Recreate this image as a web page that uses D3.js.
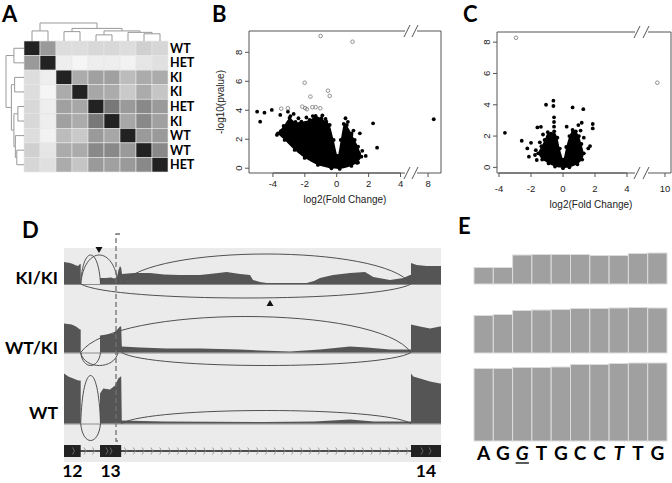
<!DOCTYPE html>
<html>
<head>
<meta charset="utf-8">
<script src="https://cdnjs.cloudflare.com/ajax/libs/d3/7.8.5/d3.min.js"></script>
<style>
body { margin: 0; background: #fff; }
svg { display: block; }
</style>
</head>
<body>
<svg width="672" height="483"></svg>
<script>
// ---------- data ----------
// A: sample correlation heatmap (0 = unrelated, 1 = identical)
var sampleLabels = ["WT", "HET", "KI", "KI", "HET", "KI", "WT", "WT", "HET"];
var similarity = [
  [1, .44, .125, .125, .15, .15, .125, .185, .16],
  [.44, 1, .046, .014, .046, .046, .028, .088, .11],
  [.125, .046, 1, .36, .41, .41, .28, .36, .36],
  [.125, .014, .36, 1, .38, .36, .22, .36, .24],
  [.15, .046, .41, .38, 1, .6, .44, .52, .44],
  [.15, .046, .41, .36, .6, 1, .38, .52, .41],
  [.125, .028, .28, .22, .44, .38, 1, .44, .44],
  [.185, .088, .36, .36, .52, .52, .44, 1, .52],
  [.16, .11, .36, .24, .44, .41, .44, .52, 1]
];
// clustering tree (merge heights)
var dendro = {h: 1, children: [
  {h: .56, children: [{leaf: 0}, {leaf: 1}]},
  {h: .7, children: [
    {h: .52, children: [{leaf: 2}, {leaf: 3}]},
    {h: .56, children: [
      {h: .34, children: [{leaf: 4}, {leaf: 5}]},
      {h: .48, children: [{leaf: 6}, {h: .4, children: [{leaf: 7}, {leaf: 8}]}]}
    ]}
  ]}
]};

// B: volcano, outline of the dense cloud + single points  [log2FC, -log10 p]
var bCloud = [[-3.69,2.41],[-3.33,2.92],[-2.96,3.47],[-2.58,3.19],[-2.22,3.21],[-1.70,3.33],[-1.32,3.61],
  [-0.96,3.45],[-0.65,3.21],[-0.44,2.99],[-0.19,1.95],[0.06,0.85],[0.25,1.95],[0.44,3.06],[0.63,2.99],
  [0.92,2.41],[1.13,1.95],[1.34,1.49],[1.55,0.80],[1.26,0.37],[0.92,0.16],[0.19,-0.05],[-0.33,-0.01],
  [-1.18,0.23],[-2.01,0.71],[-2.64,1.26],[-3.27,1.95]];
var bPoints = [[-4.99,3.90],[-4.80,3.21],[-4.53,3.83],[-4.07,4.02],[-3.54,3.68],[-3.06,3.90],[-3.75,2.3],
  [-3.5,2.55],[-3.2,2.8],[-2.9,3.6],[-2.7,3.75],[-2.4,3.45],[-1.9,3.5],[-1.5,3.6],[-0.9,3.65],[-0.7,3.4],
  [0.55,3.45],[0.7,3.2],[0.92,2.30],[1.05,2.6],[1.45,2.41],[1.40,1.03],[1.82,0.85],[1.6,1.2],[1.34,0.39],
  [-1.07,0.34],[2.28,3.10],[2.53,1.42],[8.35,3.38]];
var bOpen = [[-1.01,9.12],[0.99,8.73],[-2.01,5.90],[-0.55,5.35],[-0.44,4.99],[-1.65,4.94],[-3.48,4.11],
  [-3.06,4.14],[-2.16,4.25],[-1.98,4.15],[-1.87,4.07],[-1.53,4.21],[-1.32,4.21],[-1.03,4.14]];

// C: volcano
var cCloud = [[-1.55,0.9],[-1.35,1.35],[-1.15,1.75],[-0.95,2.25],[-0.75,2.15],[-0.55,2.3],[-0.35,1.9],
  [-0.2,1.2],[0.02,0.5],[0.2,1.3],[0.4,2.0],[0.6,2.4],[0.8,2.3],[1.0,2.0],[1.15,1.5],[1.3,0.9],[1.2,0.5],
  [0.9,0.2],[0.4,0.0],[0,-0.05],[-0.5,0.05],[-0.9,0.25],[-1.3,0.5]];
var cPoints = [[-3.63,2.21],[-2.58,1.70],[-2.23,1.21],[-2.13,0.68],[-2.0,1.57],[-1.6,2.55],[-1.38,2.59],
  [-1.06,4.0],[-0.6,4.26],[-0.6,3.92],[-0.56,3.2],[-0.56,2.9],[-0.56,2.6],[0.6,3.83],[1.27,3.72],
  [1.86,2.77],[1.86,2.49],[1.17,2.85],[0.96,2.7],[1.58,1.21],[1.69,1.36],[-1.64,0.47],[-1.75,0.79],
  [0.23,2.6],[0.64,2.27],[-1.7,1.1],[-1.45,1.6],[-1.25,2.1],[1.1,2.35],[1.3,1.9]];
var cOpen = [[-2.94,8.28],[9.52,5.41]];

// D: sashimi plot, coverage [bp, reads] and junctions [from, to, side, reads]
var exons = [{name: "12", start: 0, end: 167}, {name: "13", start: 360, end: 572}, {name: "14", start: 3470, end: 3770}];
var trackNames = ["KI/KI", "WT/KI", "WT"];
var covKI = [[0,0],[0,44],[30,43],[60,42],[90,40],[110,38],[140,36],[160,40],[167,40],[167,0],
  [360,0],[360,12],[420,12],[470,13],[500,11],[530,14],[545,28],[560,36],[572,32],[580,20],
  [700,22],[860,22],[1000,19],[1150,18],[1360,18],[1500,21],[1627,24],[1760,20],[1860,18],[1890,8],
  [1960,4],[2027,2],[2427,2],[2500,6],[2560,12],[2690,18],[2860,22],[3010,24],[3093,14],[3260,8],
  [3393,12],[3460,18],[3470,18],[3470,42],[3527,38],[3627,36],[3760,36],[3770,36],[3770,0]];
var covHet = [[0,0],[0,58],[77,56],[120,52],[160,46],[167,46],[167,0],
  [360,0],[360,34],[427,36],[493,38],[543,48],[560,52],[572,52],[578,12],[760,10],[1027,8],[1360,8],
  [1760,6],[1960,4],[2260,2],[2560,6],[2860,12],[3027,10],[3260,6],[3440,6],[3470,6],
  [3470,56],[3560,52],[3660,48],[3760,52],[3770,52],[3770,0]];
var covWT = [[0,0],[0,100],[43,94],[93,90],[143,86],[167,86],[167,0],
  [360,0],[360,60],[393,70],[460,68],[510,76],[543,90],[567,94],[572,94],[578,6],[1000,4],[2000,3],
  [2500,4],[2860,8],[3100,4],[3470,4],[3470,100],[3493,94],[3560,90],[3660,84],[3760,80],[3770,80],[3770,0]];
var juncKI = [[167,365,"up",58],[167,540,"up",58],[575,3470,"up",60],[167,3470,"down",28]];
var juncHet = [[167,3470,"up",72],[167,365,"down",26],[167,540,"down",26],[575,3470,"down",26]];
var juncWT = [[167,365,"up",96],[167,365,"down",34],[575,3470,"up",26]];
var markers = [[350, "down"], [2060, "up"]]; // on the KI/KI track

// E: per-base coverage at the splice site
var bases = ["A", "G", "G", "T", "G", "C", "C", "T", "T", "G"];
var covE1 = [33, 33, 58, 59, 59, 59, 57, 57, 61, 62];
var covE2 = [75, 77, 85, 86, 87, 89, 89, 90, 91, 90];
var covE3 = [145, 145, 147, 147, 148, 153, 153, 155, 156, 156];

// ---------- drawing ----------
var svg = d3.select("svg");
var boldFont = "Lato, 'Open Sans', sans-serif";
var plotFont = "'Liberation Sans', Arial, sans-serif";

function panelLabel(t, x, y) {
  svg.append("text").attr("x", x).attr("y", y).text(t)
    .attr("font-family", boldFont).attr("font-weight", 700).attr("font-size", 22);
}
panelLabel("A", 2, 22);
panelLabel("B", 212, 22);
panelLabel("C", 463, 22);
panelLabel("D", 22, 238);
panelLabel("E", 458, 234);

// ----- A -----
var cellX = d3.scaleBand().domain(d3.range(9)).range([24, 168]);
var cellY = d3.scaleBand().domain(d3.range(9)).range([41, 172]);
var grey = d3.scaleLinear().domain([0, 1]).range(["#f8f8f8", "#222"]);
var gA = svg.append("g");
similarity.forEach(function(row, i) {
  gA.selectAll(null).data(row).enter().append("rect")
    .attr("x", function(d, j) { return cellX(j); })
    .attr("y", cellY(i))
    .attr("width", cellX.bandwidth())
    .attr("height", cellY.bandwidth())
    .attr("fill", function(d) { return grey(d); })
    .attr("stroke", "#e6e6e6").attr("stroke-width", 0.6);
});
gA.selectAll("text.lab").data(sampleLabels).enter().append("text")
  .attr("x", 170)
  .attr("y", function(d, i) { return cellY(i) + cellY.bandwidth() / 2 + 4.5; })
  .text(function(d) { return d; })
  .attr("font-family", boldFont).attr("font-weight", 700).attr("font-size", 12.5);

var tree = d3.hierarchy(dendro);
tree.eachAfter(function(n) {
  n.hgt = n.children ? n.data.h : 0;
  n.idx = n.children ? d3.mean(n.children, function(c) { return c.idx; }) : n.data.leaf;
});
var dh = d3.scaleLinear().domain([0, 1]).range([0, 18]);
var colPos = d3.scaleLinear().domain([0, 8]).range([cellX(0) + cellX.bandwidth() / 2, cellX(8) + cellX.bandwidth() / 2]);
var rowPos = d3.scaleLinear().domain([0, 8]).range([cellY(0) + cellY.bandwidth() / 2, cellY(8) + cellY.bandwidth() / 2]);
var links = tree.descendants().filter(function(n) { return n.parent; });
gA.selectAll("path.top").data(links).enter().append("path")
  .attr("d", function(n) {
    return "M" + colPos(n.idx) + "," + (41 - dh(n.hgt)) + "V" + (41 - dh(n.parent.hgt)) + "H" + colPos(n.parent.idx);
  })
  .attr("fill", "none").attr("stroke", "#999").attr("stroke-width", 1);
gA.selectAll("path.left").data(links).enter().append("path")
  .attr("d", function(n) {
    return "M" + (24 - dh(n.hgt)) + "," + rowPos(n.idx) + "H" + (24 - dh(n.parent.hgt)) + "V" + rowPos(n.parent.idx);
  })
  .attr("fill", "none").attr("stroke", "#999").attr("stroke-width", 1);

// ----- B / C volcano plots -----
function volcano(o) {
  var g = svg.append("g").attr("font-family", plotFont);
  var xl = d3.scaleLinear().domain(o.leftDom).range([o.L, o.gapL]);
  var xr = d3.scaleLinear().domain(o.rightDom).range([o.gapR, o.R]);
  var X = function(v) { return v <= o.leftDom[1] ? xl(v) : xr(v); };
  var y = d3.scaleLinear().domain(o.yDom).range([o.B, o.T]);
  var line = d3.line().x(function(d) { return X(d[0]); }).y(function(d) { return y(d[1]); })
    .curve(d3.curveCardinalClosed.tension(0.4));

  g.append("path").attr("d", line(o.cloud)).attr("fill", "#000");
  g.selectAll("circle.e").data(o.cloud).enter().append("circle")
    .attr("cx", function(d) { return X(d[0]); }).attr("cy", function(d) { return y(d[1]); })
    .attr("r", 1.9).attr("fill", "#000");
  g.selectAll("circle.p").data(o.points).enter().append("circle")
    .attr("cx", function(d) { return X(d[0]); }).attr("cy", function(d) { return y(d[1]); })
    .attr("r", 1.9).attr("fill", "#000");
  g.selectAll("circle.o").data(o.open).enter().append("circle")
    .attr("cx", function(d) { return X(d[0]); }).attr("cy", function(d) { return y(d[1]); })
    .attr("r", 1.8).attr("fill", "none").attr("stroke", "#777").attr("stroke-width", 0.8);

  // broken box
  var bl = "#555";
  var bx = g.append("g").attr("stroke", bl).attr("stroke-width", 1).attr("fill", "none");
  bx.append("path").attr("d", "M" + o.gL + "," + o.T + "H" + o.L + "V" + o.B + "H" + o.gL);
  bx.append("path").attr("d", "M" + o.gR + "," + o.T + "H" + o.R + "V" + o.B + "H" + o.gR);
  [o.T, o.B].forEach(function(yy) {
    bx.append("path").attr("d", "M" + (o.gL - 1) + "," + (yy + 6) + "L" + (o.gL + 5) + "," + (yy - 6));
    bx.append("path").attr("d", "M" + (o.gR - 5) + "," + (yy + 6) + "L" + (o.gR + 1) + "," + (yy - 6));
  });

  // y axis
  var yt = [0, 2, 4, 6, 8];
  g.selectAll("line.yt").data(yt).enter().append("line")
    .attr("x1", o.L).attr("x2", o.L - 4).attr("y1", function(d) { return y(d); }).attr("y2", function(d) { return y(d); })
    .attr("stroke", bl);
  g.selectAll("text.yt").data(yt).enter().append("text")
    .attr("transform", function(d) { return "translate(" + (o.L - 7) + "," + y(d) + ") rotate(-90)"; })
    .attr("text-anchor", "middle").attr("font-size", 9.5).attr("fill", "#222")
    .text(function(d) { return d; });
  if (o.yTitle) {
    g.append("text").attr("transform", "translate(" + o.yTitleX + "," + ((o.T + o.B) / 2) + ") rotate(-90)")
      .attr("text-anchor", "middle").attr("font-size", 10).attr("fill", "#222").text(o.yTitle);
  }
  // x axis
  g.selectAll("line.xt").data(o.xTicks).enter().append("line")
    .attr("x1", function(d) { return X(d); }).attr("x2", function(d) { return X(d); })
    .attr("y1", o.B).attr("y2", o.B + 4).attr("stroke", bl);
  g.append("line").attr("x1", X(o.xTicks[0])).attr("x2", X(o.leftTicksEnd)).attr("y1", o.B).attr("y2", o.B).attr("stroke", bl);
  g.selectAll("text.xt").data(o.xTicks).enter().append("text")
    .attr("x", function(d) { return X(d); }).attr("y", o.xLabY)
    .attr("text-anchor", "middle").attr("font-size", 9.5).attr("fill", "#222")
    .text(function(d) { return d; });
  g.append("text").attr("x", o.xTitleX).attr("y", o.xLabY + 16).attr("text-anchor", "middle")
    .attr("font-size", 10).attr("fill", "#222").text("log2(Fold Change)");
}

volcano({
  L: 249, R: 441, T: 31, B: 173, gL: 405, gR: 417,
  leftDom: [-5.5, 4.5], gapL: 408.5, rightDom: [7.5, 8.8], gapR: 420,
  yDom: [-0.33, 9.47], xTicks: [-4, -2, 0, 2, 4, 8], leftTicksEnd: 4,
  xLabY: 187, xTitleX: 345, yTitle: "-log10(pvalue)", yTitleX: 224,
  cloud: bCloud, points: bPoints, open: bOpen
});
volcano({
  L: 497, R: 671, T: 32, B: 173, gL: 635, gR: 648,
  leftDom: [-4.125, 4.5], gapL: 635, rightDom: [9.0, 10.375], gapR: 649,
  yDom: [-0.36, 8.65], xTicks: [-4, -2, 0, 2, 4, 10], leftTicksEnd: 4,
  xLabY: 192, xTitleX: 591, yTitle: null,
  cloud: cCloud, points: cPoints, open: cOpen
});

// ----- D sashimi -----
var gD = svg.append("g");
var bpX = d3.scaleLinear().domain([0, 3770]).range([64, 441]);
var covH = d3.scaleLinear().domain([0, 100]).range([0, 50]);
var trackBase = [284, 352.5, 423.5];
var labelY = [284, 354, 419];
var covs = [covKI, covHet, covWT];
var juncs = [juncKI, juncHet, juncWT];

gD.append("rect").attr("x", bpX(0)).attr("y", 248).attr("width", bpX(3770) - bpX(0)).attr("height", 214)
  .attr("fill", "#ebebeb");

trackBase.forEach(function(base, t) {
  var area = d3.area().x(function(d) { return bpX(d[0]); }).y0(base).y1(function(d) { return base - covH(d[1]); });
  gD.append("line").attr("x1", bpX(0)).attr("x2", bpX(3770)).attr("y1", base + 0.5).attr("y2", base + 0.5)
    .attr("stroke", "#8c8c8c").attr("stroke-width", 1);
  gD.append("path").attr("d", area(covs[t])).attr("fill", "#555");
  gD.selectAll(null).data(juncs[t]).enter().append("path")
    .attr("d", function(j) {
      var x1 = bpX(j[0]), x2 = bpX(j[1]), w = x2 - x1;
      var k = covH(j[3]) / 0.75 * (j[2] === "up" ? -1 : 1);
      return "M" + x1 + "," + base + "C" + (x1 + 0.1 * w) + "," + (base + k) + " " +
        (x2 - 0.1 * w) + "," + (base + k) + " " + x2 + "," + base;
    })
    .attr("fill", "none").attr("stroke", "#505050").attr("stroke-width", 1);
  gD.append("text").attr("x", 58).attr("y", labelY[t])
    .attr("text-anchor", "end").text(trackNames[t])
    .attr("font-family", boldFont).attr("font-weight", 700).attr("font-size", 17.5);
});

gD.selectAll("path.mk").data(markers).enter().append("path")
  .attr("d", function(m) {
    var x = bpX(m[0]);
    if (m[1] === "down") { var y0 = trackBase[0] - 37; return "M" + (x - 3.5) + "," + y0 + "H" + (x + 3.5) + "L" + x + "," + (y0 + 6) + "Z"; }
    var y1 = trackBase[0] + 22; return "M" + (x - 3.5) + "," + y1 + "H" + (x + 3.5) + "L" + x + "," + (y1 - 6) + "Z";
  })
  .attr("fill", "#111");

// gene model
var geneY = 451;
gD.append("line").attr("x1", bpX(0)).attr("x2", bpX(3770)).attr("y1", geneY).attr("y2", geneY)
  .attr("stroke", "#1a1a1a").attr("stroke-width", 1.6);
var chev = d3.range(210, 360, 85).concat(d3.range(615, 3450, 88));
gD.selectAll("path.ch").data(chev).enter().append("path")
  .attr("d", function(b) { var x = bpX(b); return "M" + (x - 1) + "," + (geneY - 3.5) + "L" + (x + 1) + "," + geneY + "L" + (x - 1) + "," + (geneY + 3.5); })
  .attr("fill", "none").attr("stroke", "#888").attr("stroke-width", 0.8);
gD.selectAll("rect.ex").data(exons).enter().append("rect")
  .attr("x", function(e) { return bpX(e.start); }).attr("y", geneY - 6)
  .attr("width", function(e) { return bpX(e.end) - bpX(e.start); }).attr("height", 12)
  .attr("fill", "#222");
var exChev = [95, 430, 470, 3580, 3660];
gD.selectAll("path.xch").data(exChev).enter().append("path")
  .attr("d", function(b) { var x = bpX(b); return "M" + (x - 1) + "," + (geneY - 3.5) + "L" + (x + 1) + "," + geneY + "L" + (x - 1) + "," + (geneY + 3.5); })
  .attr("fill", "none").attr("stroke", "#777").attr("stroke-width", 0.8);
gD.selectAll("text.ex").data(exons).enter().append("text")
  .attr("x", function(e) { return bpX((e.start + e.end) / 2); }).attr("y", 477)
  .attr("text-anchor", "middle").text(function(e) { return e.name; })
  .attr("font-family", boldFont).attr("font-weight", 700).attr("font-size", 17.5);

// dashed bracket at the exon 13 donor
gD.append("path").attr("d", "M120,234H116V441H120")
  .attr("fill", "none").attr("stroke", "#707070").attr("stroke-width", 1.3).attr("stroke-dasharray", "5,3");

// ----- E per-base coverage -----
var gE = svg.append("g");
var eX = d3.scaleBand().domain(d3.range(10)).range([474, 667]);
var eH = d3.scaleLinear().domain([0, 100]).range([0, 50]);
var eRows = [covE1, covE2, covE3];
var eBase = [284, 353, 441];
eRows.forEach(function(row, r) {
  gE.selectAll(null).data(row).enter().append("rect")
    .attr("x", function(d, i) { return eX(i); })
    .attr("y", function(d) { return eBase[r] - eH(d); })
    .attr("width", eX.bandwidth()).attr("height", function(d) { return eH(d); })
    .attr("fill", "#a0a0a0").attr("stroke", "#dcdcdc").attr("stroke-width", 1);
});
gE.selectAll("text.b").data(bases).enter().append("text")
  .attr("x", function(d, i) { return eX(i) + eX.bandwidth() / 2; }).attr("y", 460)
  .attr("text-anchor", "middle").text(function(d) { return d; })
  .attr("font-family", boldFont).attr("font-weight", 700).attr("font-size", 19)
  .attr("font-style", function(d, i) { return (i === 2 || i === 7) ? "italic" : "normal"; });
gE.append("line").attr("x1", eX(2) + 3).attr("x2", eX(2) + eX.bandwidth() - 3)
  .attr("y1", 463).attr("y2", 463).attr("stroke", "#000").attr("stroke-width", 1.3);
</script>
</body>
</html>
